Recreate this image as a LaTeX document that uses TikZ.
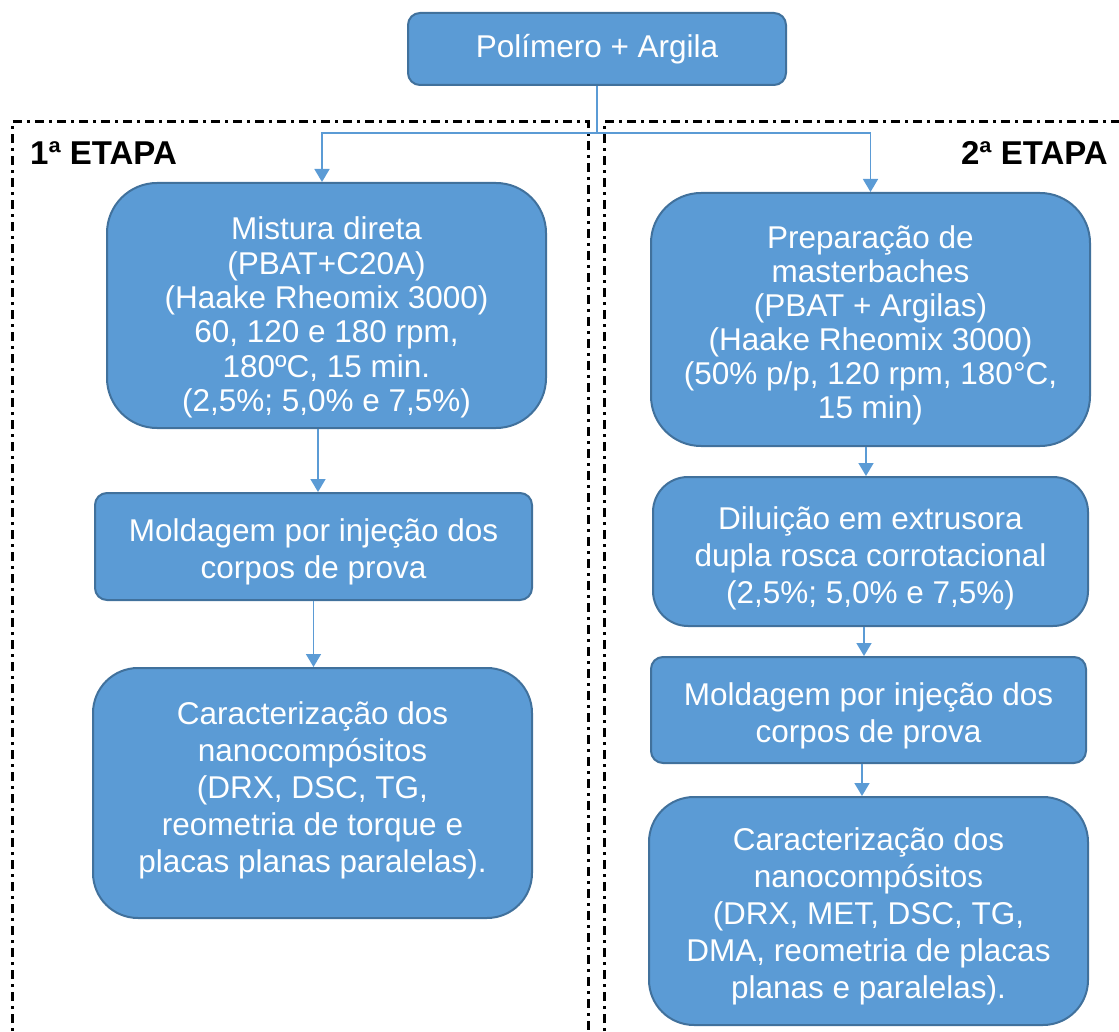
\documentclass[tikz,border=0pt]{standalone}
\usepackage{fontspec}
\setmainfont{Liberation Sans}
\usetikzlibrary{arrows.meta}
\definecolor{boxfill}{HTML}{5B9BD5}
\definecolor{boxline}{HTML}{41719C}
\begin{document}
\begin{tikzpicture}[x=1pt,y=-1pt,
  box/.style={draw=boxline, line width=2pt, fill=boxfill, inner sep=0pt},
  boxtext/.style={text=white, align=center, inner sep=0pt,
    font=\fontsize{31.5}{37}\selectfont},
  flowline/.style={draw=boxfill, line width=1.6pt},
  flow/.style={flowline, -{Triangle[width=15pt,length=13pt]}},
  stage/.style={draw=black, line width=3pt, dash pattern=on 9pt off 5pt on 3pt off 5pt},
  heading/.style={font=\bfseries\fontsize{33}{37}\selectfont, inner sep=0pt}]
\useasboundingbox (0,0) rectangle (1119,1032);
\begin{scope}
\clip (0,0) rectangle (1119,1032);
\draw[stage] (12,1045) |- (588,122) -- (588,1045);
\draw[stage] (604,1045) |- (1130,122);
\end{scope}

\node[heading, anchor=base west] (h1) at (30,165) {1ª ETAPA};
\node[heading, anchor=base east] (h2) at (1108,165) {2ª ETAPA};

% boxes
\node[box, minimum width=378pt, minimum height=72pt, rounded corners=12pt] (top) at (597,49) {};
\node[box, minimum width=439pt, minimum height=245pt, rounded corners=50pt] (mix) at (326.5,305.5) {};
\node[box, minimum width=437pt, minimum height=107pt, rounded corners=12pt] (moldL) at (313.5,546.5) {};
\node[box, minimum width=439pt, minimum height=250pt, rounded corners=45pt] (carL) at (312.5,793) {};
\node[box, minimum width=439pt, minimum height=253pt, rounded corners=50pt] (prep) at (870.5,319.5) {};
\node[box, minimum width=435pt, minimum height=149pt, rounded corners=35pt] (dil) at (870.5,551.5) {};
\node[box, minimum width=435pt, minimum height=106pt, rounded corners=12pt] (moldR) at (868.5,710) {};
\node[box, minimum width=439pt, minimum height=228pt, rounded corners=45pt] (carR) at (868.5,911) {};

% texts
\node[boxtext] (topt) at (597,49) {Polímero + Argila};
\node[boxtext, font=\fontsize{31.5}{34.4}\selectfont] (mixt) at (326.5,317.5)
  {Mistura direta\\(PBAT+C20A)\\(Haake Rheomix 3000)\\60, 120 e 180 rpm,\\180ºC, 15 min.\\(2,5\%; 5,0\% e 7,5\%)};
\node[boxtext] (moldLt) at (313.5,552)
  {Moldagem por injeção dos\\corpos de prova};
\node[boxtext] (carLt) at (312.5,790.5)
  {Caracterização dos\\nanocompósitos\\(DRX, DSC, TG,\\reometria de torque e\\placas planas paralelas).};
\node[boxtext, font=\fontsize{31.5}{34}\selectfont] (prept) at (870.5,325.5)
  {Preparação de\\masterbaches\\(PBAT + Argilas)\\(Haake Rheomix 3000)\\(50\% p/p, 120 rpm, 180°C,\\15 min)};
\node[boxtext] (dilt) at (870.5,558.5)
  {Diluição em extrusora\\dupla rosca corrotacional\\(2,5\%; 5,0\% e 7,5\%)};
\node[boxtext] (moldRt) at (868.5,716)
  {Moldagem por injeção dos\\corpos de prova};
\node[boxtext] (carRt) at (868.5,916.5)
  {Caracterização dos\\nanocompósitos\\(DRX, MET, DSC, TG,\\DMA, reometria de placas\\planas e paralelas).};

% connectors
\coordinate (split) at (597,133);
\draw[flowline] (top.south) -- (split);
\draw[flow] (split) -| ([xshift=-4.5pt]mix.north);
\draw[flow] (split) -| (prep.north);
\draw[flow] ([xshift=-8.5pt]mix.south) -- ([xshift=-8.5pt]mix.south |- moldL.north);
\draw[flow] (moldL.south) -- (moldL.south |- carL.north);
\draw[flow] ([xshift=-4.5pt]prep.south) -- ([xshift=-4.5pt]prep.south |- dil.north);
\draw[flow] ([xshift=-6.5pt]dil.south) -- ([xshift=-6.5pt]dil.south |- moldR.north);
\draw[flow] ([xshift=-6.5pt]moldR.south) -- ([xshift=-6.5pt]moldR.south |- carR.north);
\end{tikzpicture}
\end{document}
